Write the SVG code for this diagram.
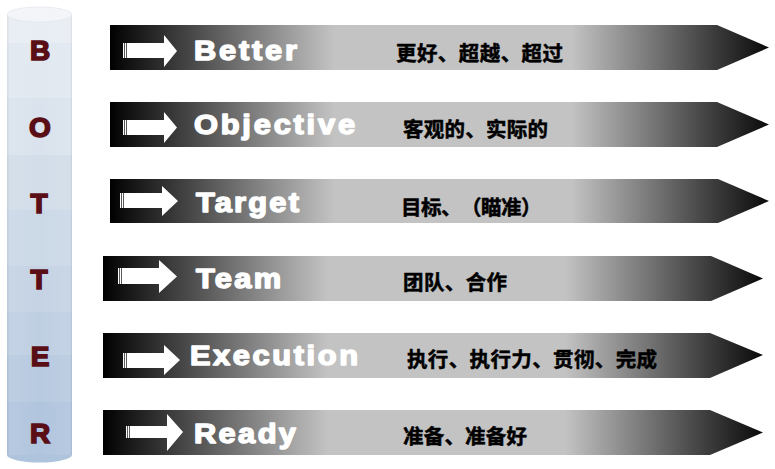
<svg xmlns="http://www.w3.org/2000/svg" width="775" height="469" viewBox="0 0 775 469">
<defs>
<linearGradient id="barg" x1="0" y1="0" x2="1" y2="0">
<stop offset="0" stop-color="#000"/>
<stop offset="0.02" stop-color="#0d0d0d"/>
<stop offset="0.34" stop-color="#c3c3c3"/>
<stop offset="0.7" stop-color="#c3c3c3"/>
<stop offset="0.91" stop-color="#404040"/>
<stop offset="1" stop-color="#0a0a0a"/>
</linearGradient>
<linearGradient id="cylside" x1="0" y1="0" x2="1" y2="0">
<stop offset="0" stop-color="#000" stop-opacity="0.05"/>
<stop offset="0.04" stop-color="#fff" stop-opacity="0.08"/>
<stop offset="0.5" stop-color="#fff" stop-opacity="0"/>
<stop offset="0.97" stop-color="#fff" stop-opacity="0.08"/>
<stop offset="1" stop-color="#000" stop-opacity="0.05"/>
</linearGradient>
</defs>
<style>
.bar{fill:url(#barg)}
.arr{fill:#fff}
.en{font-family:"Liberation Sans",Arial,sans-serif;font-weight:bold;font-size:28px;fill:#fff;stroke:#fff;stroke-width:1.5px;stroke-linejoin:round}
.zh{font-family:"Noto Sans CJK SC","Noto Sans",sans-serif;font-weight:bold;font-size:20.5px;fill:#000;stroke:#000;stroke-width:0.5px;text-spacing-trim:space-all}
.let{font-family:"Liberation Sans",Arial,sans-serif;font-weight:bold;font-size:28px;fill:#5a0e16;stroke:#5a0e16;stroke-width:1.6px;text-anchor:middle}
</style>
<rect width="775" height="469" fill="#fff"/>

<g id="cylinder">
<ellipse cx="39.5" cy="455" rx="32.5" ry="7.5" fill="#aec3dc"/>
<rect x="7" y="14.5" width="65" height="29" fill="#e8edf3"/>
<rect x="7" y="43" width="65" height="55" fill="#e1e8f0"/>
<rect x="7" y="98" width="65" height="57" fill="#dae3ed"/>
<rect x="7" y="155" width="65" height="55" fill="#d2dde9"/>
<rect x="7" y="210" width="65" height="56" fill="#cbd8e6"/>
<rect x="7" y="266" width="65" height="46" fill="#c5d3e4"/>
<rect x="7" y="312" width="65" height="43" fill="#bfcfe2"/>
<rect x="7" y="355" width="65" height="47" fill="#b8cae0"/>
<rect x="7" y="402" width="65" height="53" fill="#b1c5de"/>
<rect x="7" y="14.5" width="65" height="440.5" fill="url(#cylside)"/>
<ellipse cx="39.5" cy="14.5" rx="32.5" ry="7.5" fill="#f3f5f8" stroke="#e2e7ee" stroke-width="0.8"/>
<text class="let" x="40" y="60">B</text>
<text class="let" x="40" y="136.5">O</text>
<text class="let" x="39" y="213">T</text>
<text class="let" x="39" y="289">T</text>
<text class="let" x="40" y="366">E</text>
<text class="let" x="40" y="443">R</text>
</g>

<g id="better">
<polygon class="bar" points="110,25 717,25 769,47.5 717,70 110,70"/>
<rect class="arr" x="123" y="43" width="1.3" height="15"/>
<rect class="arr" x="125" y="43" width="1.3" height="15"/>
<polygon class="arr" points="127,43 164,43 164,35 177,51 164,67 164,58 127,58"/>
<text class="en" transform="translate(194,60) scale(1.1,1)" textLength="93.6" lengthAdjust="spacing">Better</text>
<text class="zh" x="396" y="61" textLength="167" lengthAdjust="spacing">更好、超越、超过</text>
</g>

<g id="objective">
<polygon class="bar" points="110,102 717,102 769,124.5 717,147 110,147"/>
<rect class="arr" x="123" y="120" width="1.3" height="15"/>
<rect class="arr" x="125" y="120" width="1.3" height="15"/>
<polygon class="arr" points="127,120 164,120 164,112 177,127.5 164,143 164,135 127,135"/>
<text class="en" transform="translate(194,134) scale(1.1,1)" textLength="146.4" lengthAdjust="spacing">Objective</text>
<text class="zh" x="403" y="137" textLength="145" lengthAdjust="spacing">客观的、实际的</text>
</g>

<g id="target">
<polygon class="bar" points="110,179 718,179 769,201 718,223 110,223"/>
<rect class="arr" x="120" y="193" width="1.3" height="15"/>
<rect class="arr" x="122" y="193" width="1.3" height="15"/>
<polygon class="arr" points="124,193 162,193 162,186 178,201 162,216 162,208 124,208"/>
<text class="en" transform="translate(196,212) scale(1.1,1)" textLength="93.6" lengthAdjust="spacing">Target</text>
<text class="zh" x="401 421 441 461 481 501 521" y="215">目标、（瞄准）</text>
</g>

<g id="team">
<polygon class="bar" points="103,256 711,256 763,278.5 711,301 103,301"/>
<rect class="arr" x="118" y="268" width="1.3" height="16"/>
<rect class="arr" x="120" y="268" width="1.3" height="16"/>
<polygon class="arr" points="122,268 159,268 159,260 177,276.5 159,293 159,284 122,284"/>
<text class="en" transform="translate(196,288) scale(1.1,1)" textLength="77.3" lengthAdjust="spacing">Team</text>
<text class="zh" x="403" y="290" textLength="104" lengthAdjust="spacing">团队、合作</text>
</g>

<g id="execution">
<polygon class="bar" points="103,333 710,333 763,355 710,378 103,378"/>
<rect class="arr" x="123" y="353" width="1.3" height="15"/>
<rect class="arr" x="125" y="353" width="1.3" height="15"/>
<polygon class="arr" points="127,353 164,353 164,345 180,360 164,375 164,368 127,368"/>
<text class="en" transform="translate(190,365) scale(1.1,1)" textLength="152.7" lengthAdjust="spacing">Execution</text>
<text class="zh" x="407" y="367" textLength="250" lengthAdjust="spacing">执行、执行力、贯彻、完成</text>
</g>

<g id="ready">
<polygon class="bar" points="103,410 710,410 763,432.5 710,455 103,455"/>
<rect class="arr" x="126" y="426" width="1.3" height="12"/>
<rect class="arr" x="128" y="426" width="1.3" height="12"/>
<polygon class="arr" points="130,426 167,426 167,414 183,432 167,451 167,438 130,438"/>
<text class="en" transform="translate(194,443) scale(1.1,1)" textLength="92.7" lengthAdjust="spacing">Ready</text>
<text class="zh" x="403" y="444" textLength="124" lengthAdjust="spacing">准备、准备好</text>
</g>
</svg>
